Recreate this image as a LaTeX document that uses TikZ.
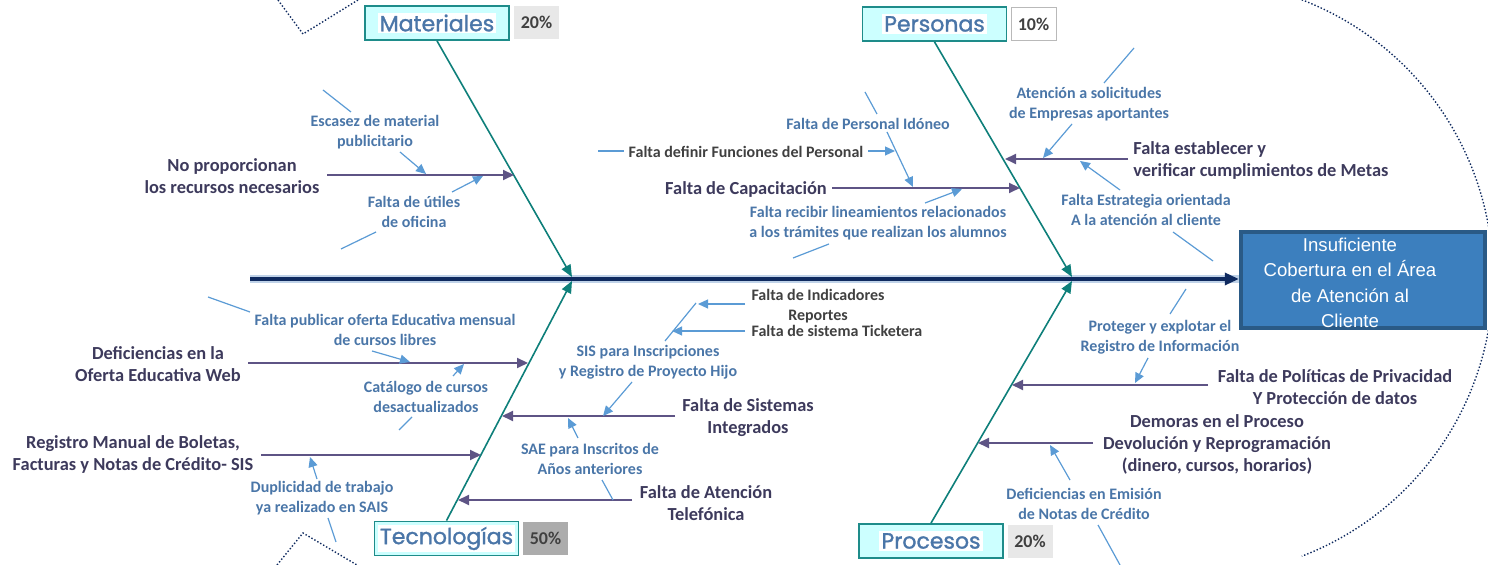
\documentclass[tikz,border=0pt]{standalone}
\usepackage{fontspec}
\setmainfont{Carlito}
\newfontfamily\titlefont[FakeBold=1.3]{Poppins}
\newfontfamily\headfont{Liberation Sans}
\usetikzlibrary{arrows.meta}

\definecolor{navy}{HTML}{0F2A5F}
\definecolor{glow}{HTML}{BFD2E8}
\definecolor{bone}{HTML}{0E7F7A}
\definecolor{boxcyan}{HTML}{CCFFFF}
\definecolor{boxedge}{HTML}{1E8C8A}
\definecolor{causeline}{HTML}{5E5485}
\definecolor{causetext}{HTML}{3D3A5C}
\definecolor{subblue}{HTML}{5B9BD5}
\definecolor{subtext}{HTML}{4A76A8}
\definecolor{headfill}{HTML}{3C7FBE}
\definecolor{headedge}{HTML}{2A5A86}

\tikzset{
  cause/.style={font=\bfseries\fontsize{9.2}{11}\selectfont, text=causetext, align=center, inner sep=0pt},
  sub/.style={font=\bfseries\fontsize{8}{10}\selectfont, text=subtext, align=center, inner sep=0pt},
  note/.style={font=\bfseries\fontsize{8}{10}\selectfont, text=black!75, align=center, inner sep=0pt},
  causearrow/.style={draw=causeline, line width=1pt, -{Triangle[length=5.5pt,width=5pt]}},
  subarrow/.style={draw=subblue, line width=0.6pt, -{Triangle[length=5pt,width=4.5pt]}},
  subline/.style={draw=subblue, line width=0.6pt},
  bonearrow/.style={draw=bone, line width=0.8pt, -{Triangle[length=6pt,width=5pt]}},
  catbox/.style={draw=boxedge, fill=boxcyan, line width=0.9pt, minimum width=72pt, minimum height=17pt, inner sep=0pt},
  cattext/.style={fill=white, text=subtext, font=\titlefont\fontsize{11}{12}\selectfont, inner sep=1pt},
  pct/.style={font=\bfseries\fontsize{9}{10}\selectfont, text=black!75, minimum width=22.5pt, minimum height=16.5pt, inner sep=0pt},
  effect/.style={draw=headedge, line width=2.2pt, fill=headfill, minimum width=122pt, minimum height=48pt, inner sep=0pt},
  effecttext/.style={text=white, align=center, font=\headfont\fontsize{9.3}{12.7}\selectfont, inner sep=0pt},
  frame/.style={draw=navy, densely dotted, line width=0.7pt},
}

\begin{document}
\begin{tikzpicture}[x=0.5pt,y=-0.5pt]
\useasboundingbox (0,0) rectangle (1488,565);

% dotted outline
\draw[frame] (278,0) -- (303,34) -- (358,0);
\draw[frame] (277,565) -- (303,533) -- (357,565);
\draw[frame] ([shift={(-69:298)}]1195,278) arc[start angle=-69, end angle=69, radius=298];

% effect and spine
\node[effect] (effect) at (1363,280) {};
\node[effecttext] (effectname) at (1350,283) {Insuficiente\\Cobertura en el Área\\de Atención al\\Cliente};
\coordinate (tail) at (250,279);
\draw[line width=4pt, glow] (tail) -- (tail -| effect.west);
\draw[line width=1.6pt, navy, -{Triangle[length=7pt,width=6pt]}] (tail) -- (tail -| effect.west);

% categories
\node[catbox] (mat) at (437,23) {};
\node[cattext] (matname) at (mat) {Materiales};
\node[pct, fill=gray!18] (matpct) at (536.5,22.5) {20\%};
\node[catbox] (per) at (934.5,24) {};
\node[cattext] (pername) at (per) {Personas};
\node[pct, fill=white, draw=gray!55] (perpct) at (1033.5,24) {10\%};
\node[catbox] (tec) at (446.5,538.5) {};
\node[cattext] (tecname) at (tec) {Tecnologías};
\node[pct, fill=gray!65] (tecpct) at (545.5,538.5) {50\%};
\node[catbox] (pro) at (931,541) {};
\node[cattext] (proname) at (pro) {Procesos};
\node[pct, fill=gray!18] (propct) at (1030,541.5) {20\%};

% bones
\coordinate (matfoot) at (572,277);
\coordinate (perfoot) at (1072,277);
\coordinate (tecfoot) at (572,281);
\coordinate (profoot) at (1072,281);
\draw[bonearrow] (mat.south) -- (matfoot);
\draw[bonearrow] (per.south) -- (perfoot);
\draw[bonearrow] (tec.north) -- (tecfoot);
\draw[bonearrow] (pro.north) -- (profoot);

% causes
\node[cause] (noprop) at (232,176) {No proporcionan\\los recursos necesarios};
\node[cause] (capac) at (746,189) {Falta de Capacitación};
\node[cause, anchor=west, align=left] (metas) at (1133,160) {Falta establecer y\\verificar cumplimientos de Metas};
\node[cause] (deficiencias) at (158,364) {Deficiencias en la\\Oferta Educativa Web};
\node[cause] (registro) at (133,454) {Registro Manual de Boletas,\\Facturas y Notas de Crédito- SIS};
\node[cause] (sistemas) at (748,418) {Falta de Sistemas\\Integrados};
\node[cause] (telefonica) at (706,503) {Falta de Atención\\Telefónica};
\node[cause] (privacidad) at (1335,387) {Falta de Políticas de Privacidad\\Y Protección de datos};
\node[cause] (demoras) at (1217,444) {Demoras en el Proceso\\Devolución y Reprogramación\\(dinero, cursos, horarios)};

% sub causes
\node[sub] (escasez) at (375,132) {Escasez de material\\publicitario};
\node[sub] (utiles) at (414,212) {Falta de útiles\\de oficina};
\node[note] (definir) at (746,152) {Falta definir Funciones del Personal};
\node[sub] (idoneo) at (868,124) {Falta de Personal Idóneo};
\node[sub] (recibir) at (878,223) {Falta recibir lineamientos relacionados\\a los trámites que realizan los alumnos};
\node[sub] (atencion) at (1089,104) {Atención a solicitudes\\de Empresas aportantes};
\node[sub] (estrategia) at (1146,210) {Falta Estrategia orientada\\A la atención al cliente};
\node[sub] (publicar) at (385,330) {Falta publicar oferta Educativa mensual\\de cursos libres};
\node[sub] (catalogo) at (426,397) {Catálogo de cursos\\desactualizados};
\node[sub] (duplicidad) at (322,498) {Duplicidad de trabajo\\ya realizado en SAIS};
\node[note] (indicadores) at (818,306) {Falta de Indicadores\\Reportes};
\node[note] (ticketera) at (837,331) {Falta de sistema Ticketera};
\node[sub] (inscripciones) at (648,362) {SIS para Inscripciones\\y Registro de Proyecto Hijo};
\node[sub] (sae) at (590,459) {SAE para Inscritos de\\Años anteriores};
\node[sub] (proteger) at (1160,337) {Proteger y explotar el\\Registro de Información};
\node[sub] (emision) at (1084,504) {Deficiencias en Emisión\\de Notas de Crédito};

% cause arrows
\foreach \n/\xa/\ya/\xb/\yb in {noprop/327/175/514/175, capac/832/188/1020/188,
  metas/1128/159/1005/159, deficiencias/248/363/528/363, registro/261/455/481/455,
  sistemas/675/416/502/416, telefonica/632/500/458/500, privacidad/1208/385/1012/385,
  demoras/1093/443/978/443} {
  \coordinate (\n-s) at (\xa,\ya);
  \coordinate (\n-e) at (\xb,\yb);
  \draw[causearrow] (\n-s) -- (\n-e);
}

% sub cause arrows
\foreach \n/\xa/\ya/\xb/\yb in {escasez/400/152/426/174, utiles/452/192/483/176,
  definir/868/151/895/151, idoneo/887/132/913/187, recibir/925/203/962/189,
  atencion/1072/124/1043/158, estrategia/1120/190/1080/161, publicar/372/351/410/362,
  catalogo/453/376/464/364, duplicidad/317/479/310/457, inscripciones/632/382/603/416,
  indicadores/745/304/698/304, ticketera/745/331/672/331, sae/578/438/568/418,
  proteger/1148/358/1135/383, emision/1070/480/1050/445} {
  \coordinate (\n-a) at (\xa,\ya);
  \coordinate (\n-b) at (\xb,\yb);
  \draw[subarrow] (\n-a) -- (\n-b);
}

% loose ticks
\foreach \n/\xa/\ya/\xb/\yb in {escasez/323/90/351/112, utiles/341/249/376/232,
  definir/598/151/624/151, idoneo/865/92/877/114, recibir/793/258/829/244,
  atencion/1134/48/1104/83, estrategia/1173/232/1213/261, publicar/208/297/250/312,
  catalogo/399/430/412/417, duplicidad/328/518/336/542, indicadores/696/303/665/341,
  telefonica/602/480/613/500, proteger/1186/289/1170/314, emision/1098/525/1120/565} {
  \coordinate (\n-c) at (\xa,\ya);
  \coordinate (\n-d) at (\xb,\yb);
  \draw[subline] (\n-c) -- (\n-d);
}
\end{tikzpicture}
\end{document}
